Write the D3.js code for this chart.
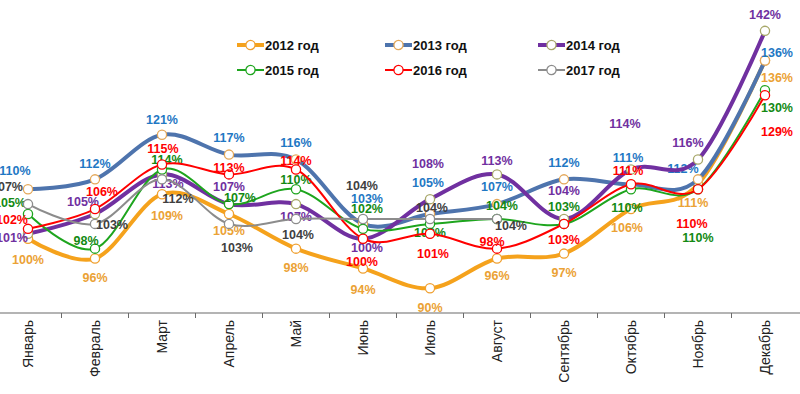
<!DOCTYPE html>
<html>
<head>
<meta charset="utf-8">
<script src="https://cdn.jsdelivr.net/npm/d3@7"></script>
<style>
  body { margin: 0; background: #fff; }
  svg { display: block; font-family: "Liberation Sans", Arial, sans-serif; }
</style>
</head>
<body>
<script>
var width = 800;
var height = 394;

var months = ["Январь", "Февраль", "Март", "Апрель", "Май", "Июнь", "Июль",
              "Август", "Сентябрь", "Октябрь", "Ноябрь", "Декабрь"];
var years = ["2012 год", "2013 год", "2014 год", "2015 год", "2016 год", "2017 год"];

// значения, %
var y2012 = [100, 96, 109, 105, 98, 94, 90, 96, 97, 106, 111, 136];
var y2013 = [110, 112, 121, 117, 116, 103, 105, 107, 112, 111, 112, 136];
var y2014 = [101, 105, 113, 107, 107, 100, 108, 113, 104, 114, 116, 142];
var y2015 = [105, 98, 114, 107, 110, 102, 103, 104, 103, 110, 110, 130];
var y2016 = [102, 106, 115, 113, 114, 100, 101, 98, 103, 111, 110, 129];
var y2017 = [107, 103, 112, 103, 104, 104, 104, 104];

var values = [y2012, y2013, y2014, y2015, y2016, y2017];

// цвета линий, маркеров и подписей
var lineColor  = ["#f5a21c", "#4e74ad", "#7030a0", "#1ea51e", "#ff0000", "#8c8c8c"];
var markColor  = ["#f0a030", "#e4a85a", "#a8a86a", "#1ea51e", "#ff0000", "#8c8c8c"];
var labelColor = ["#eba235", "#1f78c4", "#7030a0", "#138a13", "#ff0000", "#3f3f3f"];
var lineWidth  = [4, 4, 4, 2, 2, 2];

// сдвиг подписей относительно точки [dx, dy]
var labelShift = [
  [[0,21],[0,19],[5,21],[0,17],[0,19],[0,21],[0,19],[0,17],[0,19],[-4,19],[-5,18],[12,17]],
  [[-13,-19],[0,-16],[0,-15],[0,-17],[0,-17],[4,-25],[-2,-31],[0,-17],[0,-17],[-3,-27],[-15,-11],[12,-8]],
  [[-16,4],[-12,-12],[6,9],[0,-17],[0,13],[4,9],[-2,-36],[0,-14],[0,-28],[-6,-46],[-10,-17],[0,-16]],
  [[-18,-11],[-9,-8],[5,-10],[11,-6],[0,-10],[4,-20],[0,9],[5,-13],[0,-17],[-4,18],[0,48],[12,17]],
  [[-16,-9],[7,-17],[1,-16],[0,-7],[0,-9],[-1,23],[3,20],[-5,-7],[0,16],[-3,-14],[-6,34],[12,36]],
  [[-21,-17],[17,1],[16,19],[8,24],[2,16],[-1,-33],[2,-11],[14,7]]
];

var svg = d3.select("body")
            .append("svg")
            .attr("width", width)
            .attr("height", height);

var axisY = 313;

var x = d3.scaleBand()
          .domain(months)
          .range([-5.5, 798.5]);

var y = d3.scaleLinear()
          .domain([85, 145])
          .range([axisY, 16]);

function cx(i) { return x(months[i]) + x.bandwidth() / 2; }

// ось X
var xAxis = svg.append("g")
               .attr("transform", "translate(0," + axisY + ")")
               .call(d3.axisBottom(x).tickSize(0).tickSizeOuter(0));
xAxis.select(".domain").attr("stroke", "#6b6b6b").attr("stroke-width", 1.2)
     .attr("d", "M0,0H" + width);
xAxis.selectAll("text")
     .attr("transform", "rotate(-90)")
     .attr("text-anchor", "end")
     .attr("x", -7)
     .attr("y", 0)
     .attr("dy", "0.35em")
     .attr("fill", "#222")
     .style("font-size", "14px");

svg.append("g")
   .selectAll("line")
   .data(months.slice(1))
   .enter()
   .append("line")
   .attr("x1", function(d){ return x(d); })
   .attr("x2", function(d){ return x(d); })
   .attr("y1", axisY)
   .attr("y2", axisY + 5)
   .attr("stroke", "#6b6b6b");

// линии
var line = d3.line()
             .x(function(d, i){ return cx(i); })
             .y(function(d){ return y(d); })
             .curve(d3.curveCatmullRom.alpha(0));

var groups = svg.selectAll("g.series")
                .data(values)
                .enter()
                .append("g")
                .attr("class", "series");

groups.append("path")
      .attr("d", function(d){ return line(d); })
      .attr("fill", "none")
      .attr("stroke", function(d, i){ return lineColor[i]; })
      .attr("stroke-width", function(d, i){ return lineWidth[i]; })
      .attr("stroke-linejoin", "round");

groups.each(function(d, s) {
  d3.select(this).selectAll("circle")
    .data(d)
    .enter()
    .append("circle")
    .attr("cx", function(v, i){ return cx(i); })
    .attr("cy", function(v){ return y(v); })
    .attr("r", 4.6)
    .attr("fill", "#fff")
    .attr("stroke", markColor[s])
    .attr("stroke-width", 1.3);
});

// подписи данных
groups.each(function(d, s) {
  d3.select(this).selectAll("text")
    .data(d)
    .enter()
    .append("text")
    .attr("x", function(v, i){ return cx(i) + labelShift[s][i][0]; })
    .attr("y", function(v, i){ return y(v) + labelShift[s][i][1]; })
    .attr("dy", "0.35em")
    .attr("text-anchor", "middle")
    .attr("fill", labelColor[s])
    .style("font-size", "12.5px")
    .style("font-weight", "bold")
    .text(function(v){ return v + "%"; });
});

// легенда
var legendX = [237, 385, 538];
var legendY = [45, 70];

var legend = svg.selectAll("g.legend")
                .data(years)
                .enter()
                .append("g")
                .attr("class", "legend")
                .attr("transform", function(d, i){
                  return "translate(" + legendX[i % 3] + "," + legendY[Math.floor(i / 3)] + ")";
                });

legend.append("line")
      .attr("x1", 0).attr("x2", 27)
      .attr("stroke", function(d, i){ return lineColor[i]; })
      .attr("stroke-width", function(d, i){ return lineWidth[i]; });

legend.append("circle")
      .attr("cx", 13.5)
      .attr("r", 4.6)
      .attr("fill", "#fff")
      .attr("stroke", function(d, i){ return markColor[i]; })
      .attr("stroke-width", 1.3);

legend.append("text")
      .attr("x", 28)
      .attr("dy", "0.35em")
      .attr("fill", "#111")
      .style("font-size", "13px")
      .style("font-weight", "bold")
      .text(function(d){ return d; });
</script>
</body>
</html>
